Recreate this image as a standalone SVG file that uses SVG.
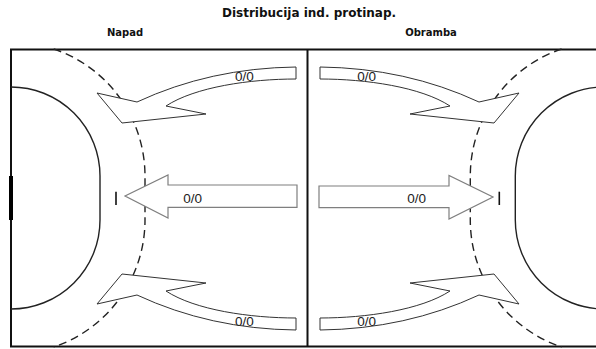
<svg xmlns="http://www.w3.org/2000/svg" width="596" height="349" viewBox="0 0 596 349">
<style>
.title{font-family:"DejaVu Sans",sans-serif;font-weight:bold;font-size:12px;fill:#111}
.sub{font-family:"DejaVu Sans",sans-serif;font-weight:bold;font-size:10px;fill:#111}
.lbl{font-family:"Liberation Sans",Arial,sans-serif;font-size:13.5px;fill:#222}
.line{fill:none;stroke:#111;stroke-width:2}
.area{fill:none;stroke:#222;stroke-width:1.4}
.dash{fill:none;stroke:#222;stroke-width:1.4;stroke-dasharray:8 5}
.curv{fill:#fff;stroke:#333;stroke-width:1}
.strt{fill:#fff;stroke:#7f7f7f;stroke-width:1.2}
.tick{stroke:#111;stroke-width:1.6}
</style>
<defs>
<path id="carrow" d="M296,67 L296,79 C250,79 195,87 166,106 L206,114 L122,123 L97,93 L137,102 Q210,68 296,67 Z"/>
</defs>
<rect width="596" height="349" fill="#fff"/>
<text class="title" x="309" y="17" text-anchor="middle">Distribucija ind. protinap.</text>
<text class="sub" x="125" y="35.5" text-anchor="middle">Napad</text>
<text class="sub" x="431" y="35.5" text-anchor="middle">Obramba</text>
<g id="court">
<path class="line" d="M10,49.5 H600 M11,49 V347 M10,346.5 H600 M307.5,49 V347"/>
<path class="area" d="M11,87 A89,89 0 0 1 100,176 L100,220 A89,89 0 0 1 11,309"/>
<path class="area" d="M604.3,87 A89,89 0 0 0 515.3,176 L515.3,220 A89,89 0 0 0 604.3,309"/>
<path class="dash" d="M53.7,49 A134,134 0 0 1 145,176 L145,220 A134,134 0 0 1 53.7,347"/>
<path class="dash" d="M561.6,49 A134,134 0 0 0 470.3,176 L470.3,220 A134,134 0 0 0 561.6,347"/>
<line x1="11" y1="176" x2="11" y2="220" stroke="#000" stroke-width="4"/>
</g>
<g id="connectors">
<g id="arrow-top-left"><use href="#carrow" class="curv"/></g>
<g id="arrow-bottom-left"><use href="#carrow" class="curv" transform="translate(0,397) scale(1,-1)"/></g>
<g id="arrow-top-right"><use href="#carrow" class="curv" transform="translate(616,0) scale(-1,1)"/></g>
<g id="arrow-bottom-right"><use href="#carrow" class="curv" transform="translate(616,397) scale(-1,-1)"/></g>
<g id="arrow-mid-left"><path class="strt" d="M297,185 L168,185 L168,175 L125,196 L168,218 L168,207.3 L297,207.3 Z"/></g>
<g id="arrow-mid-right"><path class="strt" d="M319,186 L449,186 L449,175.5 L493,197 L449,219 L449,207.7 L319,207.7 Z"/></g>
<line class="tick" x1="116" y1="191.7" x2="116" y2="205"/>
<line class="tick" x1="499.3" y1="191.7" x2="499.3" y2="205"/>
</g>
<g id="labels">
<text class="lbl" x="235" y="80.5">0/0</text>
<text class="lbl" x="183.3" y="203">0/0</text>
<text class="lbl" x="235" y="326">0/0</text>
<text class="lbl" x="357.3" y="81">0/0</text>
<text class="lbl" x="407.3" y="203">0/0</text>
<text class="lbl" x="357.3" y="326">0/0</text>
</g>
</svg>
